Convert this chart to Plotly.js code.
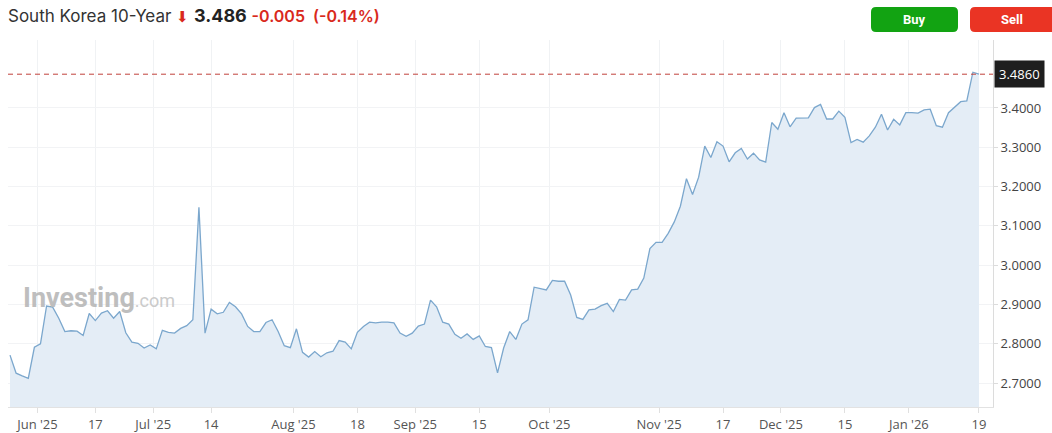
<!DOCTYPE html>
<html>
<head>
<meta charset="utf-8">
<script src="https://cdn.plot.ly/plotly-3.0.1.min.js"></script>
<style>
html,body{margin:0;padding:0;background:#fff;}
#chart{width:1052px;height:433px;}
</style>
</head>
<body>
<div id="chart"></div>
<script>
// ---- data ----
const firstDay = '2025-05-26';
const lastDay = '2026-01-19';
const marketHolidays = ['2025-06-03','2025-06-06','2025-08-15','2025-10-03','2025-10-06','2025-10-07',
  '2025-10-08','2025-10-09','2025-12-25','2025-12-31','2026-01-01'];

const yields = [
  2.771,2.725,2.718,2.712,2.791,2.800,2.896,2.893,2.865,2.831,
  2.833,2.832,2.821,2.877,2.859,2.878,2.884,2.865,2.882,2.828,
  2.804,2.801,2.789,2.797,2.787,2.834,2.829,2.827,2.839,2.846,
  2.861,3.147,2.827,2.888,2.876,2.880,2.905,2.894,2.876,2.844,
  2.831,2.831,2.854,2.861,2.831,2.795,2.790,2.838,2.778,2.766,
  2.780,2.767,2.777,2.781,2.808,2.804,2.787,2.829,2.844,2.855,
  2.853,2.855,2.855,2.853,2.827,2.819,2.827,2.845,2.850,2.911,
  2.894,2.855,2.850,2.824,2.814,2.825,2.811,2.820,2.793,2.790,
  2.726,2.789,2.831,2.811,2.850,2.861,2.944,2.940,2.937,2.961,
  2.959,2.959,2.924,2.867,2.862,2.886,2.888,2.897,2.903,2.882,
  2.913,2.911,2.937,2.939,2.967,3.042,3.058,3.058,3.081,3.110,
  3.150,3.220,3.180,3.224,3.303,3.274,3.314,3.303,3.263,3.286,
  3.297,3.270,3.285,3.268,3.262,3.363,3.346,3.388,3.352,3.374,
  3.374,3.375,3.401,3.409,3.372,3.372,3.392,3.376,3.312,3.320,
  3.313,3.329,3.351,3.384,3.344,3.371,3.357,3.388,3.388,3.387,
  3.395,3.397,3.355,3.351,3.388,3.401,3.416,3.418,3.491,3.486
];

const monthTickDates  = ['2025-06-02','2025-07-01','2025-08-01','2025-09-01','2025-10-01','2025-11-03','2025-12-01','2026-01-02'];
const monthTickLabels = ["Jun '25","Jul '25","Aug '25","Sep '25","Oct '25","Nov '25","Dec '25","Jan '26"];
const midTickDates    = ['2025-06-17','2025-07-14','2025-08-18','2025-09-15','2025-11-17','2025-12-15','2026-01-19'];
const midTickLabels   = ['17','14','18','15','17','15','19'];

const yTickValues = [2.7,2.8,2.9,3.0,3.1,3.2,3.3,3.4];

const instrumentName = 'South Korea 10-Year';
const lastValue = 3.486;
const changeAbs = -0.005;
const changePct = -0.14;

// ---- trading calendar ----
function tradingDays(a, b, hol){
  const out = [];
  const d = new Date(a + 'T00:00:00Z');
  const end = new Date(b + 'T00:00:00Z');
  while (d <= end){
    const wd = d.getUTCDay();
    const s = d.toISOString().slice(0,10);
    if (wd !== 0 && wd !== 6 && hol.indexOf(s) < 0) out.push(s);
    d.setUTCDate(d.getUTCDate() + 1);
  }
  return out;
}
const dates = tradingDays(firstDay, lastDay, marketHolidays);
const xIdx = dates.map((d, i) => i);

const tickvals = [], ticktext = [];
monthTickDates.forEach((d, k) => { tickvals.push(dates.indexOf(d) - 0.5); ticktext.push(monthTickLabels[k]); });
midTickDates.forEach((d, k) => { tickvals.push(dates.indexOf(d)); ticktext.push(midTickLabels[k]); });

// ---- geometry helpers (layout only) ----
const W = 1052, H = 433;
const M = {l: 8, r: 59, t: 40, b: 26};
const PW = W - M.l - M.r, PH = H - M.t - M.b;
const px = x => (x - M.l) / PW;
const py = y => (H - M.b - y) / PH;
function roundRect(x0, y0, x1, y1, r){
  const X0 = px(x0), X1 = px(x1), T = py(y0), B = py(y1);
  const rx = r / PW, ry = r / PH;
  return `M${X0+rx},${T} L${X1-rx},${T} Q${X1},${T} ${X1},${T-ry} L${X1},${B+ry} Q${X1},${B} ${X1-rx},${B} ` +
         `L${X0+rx},${B} Q${X0},${B} ${X0},${B+ry} L${X0},${T-ry} Q${X0},${T} ${X0+rx},${T} Z`;
}

const red = '#d9291c';
const nb = '\u00a0';
const titleText = `${instrumentName}${nb}<span style="color:${red};font-size:15px">⬇</span>${nb}` +
  `<b><span style="color:#222;font-size:18px">${lastValue.toFixed(3)}</span></b>${nb}` +
  `<span style="color:${red};font-weight:600;font-size:16px">${changeAbs.toFixed(3)}${nb}${nb}(${changePct.toFixed(2)}%)</span>`;

const trace = {
  x: xIdx, y: yields, type: 'scatter', mode: 'lines',
  line: {color: '#7ba7cd', width: 1.3},
  fill: 'tozeroy', fillcolor: '#e4edf6',
  hoverinfo: 'skip'
};

const layout = {
  width: W, height: H,
  margin: M,
  paper_bgcolor: '#ffffff', plot_bgcolor: '#ffffff',
  showlegend: false,
  font: {family: 'Open Sans, Arial, sans-serif', color: '#444'},
  title: {
    text: titleText,
    font: {family: 'Inter, Arial, sans-serif', size: 17, color: '#333'},
    x: 8 / W, xanchor: 'left', xref: 'container',
    y: 1 - 16 / H, yanchor: 'middle', yref: 'container'
  },
  xaxis: {
    range: [-0.33, 161.3],
    tickmode: 'array', tickvals: tickvals, ticktext: ticktext,
    showgrid: true, gridcolor: '#f0f2f4', gridwidth: 1,
    zeroline: false, showline: true, linecolor: '#e2e2e2', linewidth: 1,
    ticks: 'outside', ticklen: 5, tickcolor: '#e0e0e0',
    tickfont: {family: 'Open Sans, Arial, sans-serif', size: 13, color: '#555'},
    fixedrange: true
  },
  yaxis: {
    side: 'right',
    range: [2.639, 3.573],
    tickmode: 'array', tickvals: yTickValues, ticktext: yTickValues.map(v => v.toFixed(4)),
    showgrid: true, gridcolor: '#f2f3f5', gridwidth: 1,
    zeroline: false, showline: true, linecolor: '#dcdcdc', linewidth: 1,
    ticks: 'outside', ticklen: 4, tickcolor: '#dcdcdc',
    tickfont: {family: 'Open Sans, Arial, sans-serif', size: 13, color: '#444'},
    fixedrange: true
  },
  shapes: [
    {type: 'line', xref: 'paper', yref: 'y', x0: 0, x1: 1, y0: lastValue, y1: lastValue,
     line: {color: '#c0403a', width: 1, dash: '5px,4px'}, layer: 'above'},
    {type: 'path', xref: 'paper', yref: 'paper', path: roundRect(871, 7, 958, 32, 5),
     fillcolor: '#12a312', line: {width: 0}, layer: 'above'},
    {type: 'path', xref: 'paper', yref: 'paper', path: roundRect(970, 7, 1062, 32, 5),
     fillcolor: '#ea3424', line: {width: 0}, layer: 'above'}
  ],
  annotations: [
    {xref: 'paper', yref: 'y', x: 1, y: lastValue, xanchor: 'left', yanchor: 'middle', xshift: 1,
     text: lastValue.toFixed(4), showarrow: false, bgcolor: '#1e1e1e', borderpad: 4,
     font: {family: 'Open Sans, Arial, sans-serif', size: 13, color: '#ffffff'}},
    {xref: 'paper', yref: 'paper', x: px(914.5), y: py(19.5), xanchor: 'center', yanchor: 'middle',
     text: '<b>Buy</b>', showarrow: false, font: {family: 'Roboto, Arial, sans-serif', size: 13, color: '#ffffff'}},
    {xref: 'paper', yref: 'paper', x: px(1012.5), y: py(19.5), xanchor: 'center', yanchor: 'middle',
     text: '<b>Sell</b>', showarrow: false, font: {family: 'Roboto, Arial, sans-serif', size: 13, color: '#ffffff'}},
    {xref: 'paper', yref: 'paper', x: px(21), y: py(298), xanchor: 'left', yanchor: 'middle',
     text: '<b>Investing</b><span style="font-size:18px;color:#c6c6c6">.com</span>', showarrow: false,
     font: {family: 'Roboto, Arial, sans-serif', size: 27, color: '#b8b8b8'}, opacity: 0.9}
  ]
};

Plotly.newPlot('chart', [trace], layout, {displayModeBar: false, staticPlot: true});
</script>
</body>
</html>
